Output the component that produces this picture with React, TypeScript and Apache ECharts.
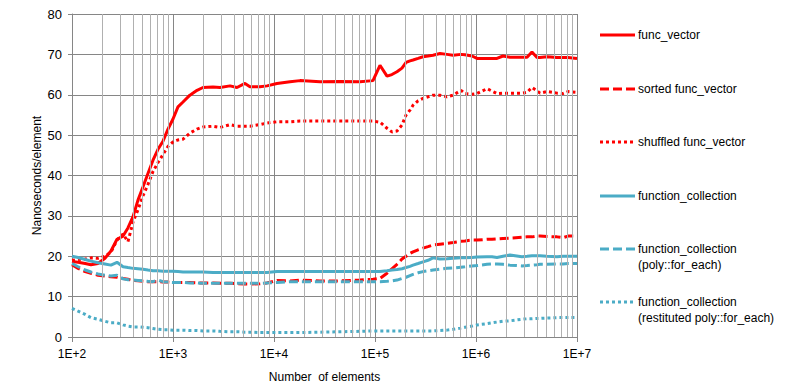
import React, { useEffect, useRef } from "react";
import * as echarts from "echarts";

const xValues = [
  100, 115, 135, 154, 181, 212, 243, 279, 320, 358, 402, 450, 505, 565, 634, 710, 796, 892,
  1000, 1120, 1256, 1470, 1730, 1980, 2490, 2920, 3670, 4300, 5160, 5780, 7260, 8530,
  10700, 14400, 18100, 28500, 45000, 71000, 95500, 112000, 131500, 147000, 165000, 185000,
  203000, 222000, 238000, 267000, 299000, 335000, 375000, 440000, 516000, 592000, 710000,
  778000, 912000, 1023000, 1285000, 1440000, 1614000, 1850000, 2170000, 2850000, 3200000,
  3580000, 4020000, 4300000, 5050000, 6340000, 7260000, 8150000, 10000000,
];

const funcVector = [
  18.7, 18.5, 18.2, 17.9, 18.2, 19.5, 21.3, 24.2, 25.0, 27.0, 29.8, 33.9, 37.2, 40.5, 43.8, 46.5, 48.5, 51.5,
  54.0, 57.0, 58.2, 59.9, 61.1, 61.8, 61.9, 61.8, 62.2, 61.8, 62.8, 62.0, 62.0, 62.2,
  62.8, 63.2, 63.5, 63.2, 63.3, 63.2, 63.5, 67.3, 64.6, 65.0, 65.7, 66.6,
  68.0, 68.4, 68.6, 69.0, 69.4, 69.6, 69.8, 70.2, 70.0, 69.8, 70.0,
  69.9, 69.6, 69.0, 69.0, 69.0, 69.0, 69.6, 69.3, 69.3, 69.3,
  70.6, 69.2, 69.2, 69.4, 69.2, 69.2, 69.2, 69.0,
];

const sortedFuncVector = [
  17.9, 17.0, 16.2, 15.8, 15.3, 15.1, 14.9, 14.8, 14.5, 14.3, 14.0, 13.9, 13.8, 13.7, 13.7, 13.7, 13.6, 13.6,
  13.5, 13.5, 13.5, 13.5, 13.4, 13.4, 13.4, 13.3, 13.3, 13.2, 13.1, 13.1, 13.2, 13.4,
  14.0, 13.9, 14.1, 13.9, 13.9, 14.1, 14.3, 14.5, 15.8, 16.9, 18.0, 19.3,
  20.0, 20.7, 21.1, 21.6, 22.0, 22.4, 22.8, 23.0, 23.2, 23.4, 23.7,
  23.8, 24.0, 24.0, 24.2, 24.2, 24.3, 24.4, 24.5, 24.7, 24.8,
  24.8, 25.0, 25.0, 24.9, 24.8, 24.6, 25.0, 25.0,
];

const shuffledFuncVector = [
  19.0, 19.2, 19.3, 19.6, 19.5, 20.0, 21.0, 24.0, 25.5, 23.6, 28.5, 31.5, 35.0, 37.8, 41.0, 43.2, 45.2, 47.2,
  48.3, 48.8, 49.0, 50.5, 51.5, 52.0, 52.2, 51.9, 52.6, 52.2, 52.2, 52.2, 52.6, 53.0,
  53.3, 53.3, 53.5, 53.5, 53.5, 53.5, 53.5, 53.2, 51.7, 50.8, 51.0, 52.5,
  55.0, 56.2, 57.4, 58.5, 59.1, 59.5, 59.9, 59.9, 59.5, 59.9, 61.1,
  60.3, 60.1, 60.3, 61.5, 60.9, 60.3, 60.4, 60.4, 60.4, 60.6,
  61.8, 61.0, 60.4, 60.8, 60.4, 60.3, 60.8, 60.6,
];

const functionCollection = [
  20.0, 19.7, 19.2, 18.8, 18.4, 18.1, 17.8, 18.5, 17.4, 17.2, 17.0, 16.9, 16.8, 16.6, 16.4, 16.4, 16.3, 16.3,
  16.3, 16.2, 16.1, 16.1, 16.1, 16.1, 16.0, 16.0, 16.0, 16.0, 16.0, 16.0, 16.0, 16.0,
  16.2, 16.2, 16.2, 16.2, 16.2, 16.2, 16.2, 16.2, 16.4, 16.6, 16.7, 16.9,
  17.2, 17.5, 17.8, 18.2, 18.6, 19.0, 19.6, 19.3, 19.4, 19.5, 19.6,
  19.6, 19.7, 19.8, 19.9, 19.9, 19.7, 20.0, 20.3, 19.9, 20.0,
  20.1, 20.1, 20.1, 20.0, 19.9, 20.0, 20.0, 20.0,
];

const functionCollectionPoly = [
  18.2, 17.4, 16.6, 16.1, 15.6, 15.3, 15.1, 15.3, 14.4, 14.2, 14.1, 14.0, 13.9, 13.8, 13.7, 14.1, 13.7, 13.6,
  13.5, 13.5, 13.5, 13.4, 13.4, 13.3, 13.3, 13.3, 13.3, 13.3, 13.3, 13.3, 13.3, 13.4,
  13.5, 13.7, 13.7, 13.7, 13.7, 13.7, 13.7, 13.7, 13.8, 13.9, 14.1, 14.5,
  14.8, 15.2, 15.5, 15.9, 16.2, 16.4, 16.6, 16.8, 17.0, 17.1, 17.3,
  17.4, 17.6, 17.7, 18.0, 18.1, 18.1, 18.0, 17.8, 17.6, 17.7,
  17.8, 17.9, 18.0, 18.0, 18.1, 18.1, 18.2, 18.2,
];

const functionCollectionRestituted = [
  7.1, 6.4, 5.6, 4.8, 4.4, 3.9, 3.5, 3.5, 3.0, 2.7, 2.5, 2.5, 2.4, 2.3, 2.1, 1.9, 1.8, 1.8,
  1.7, 1.7, 1.7, 1.6, 1.6, 1.5, 1.5, 1.4, 1.3, 1.3, 1.2, 1.2, 1.1, 1.1,
  1.1, 1.1, 1.1, 1.2, 1.3, 1.4, 1.5, 1.5, 1.5, 1.5, 1.5, 1.5,
  1.5, 1.5, 1.5, 1.5, 1.5, 1.5, 1.5, 1.6, 1.7, 1.9, 2.2,
  2.4, 2.7, 3.0, 3.3, 3.5, 3.7, 3.9, 4.0, 4.4, 4.5,
  4.5, 4.6, 4.6, 4.7, 4.8, 4.8, 4.8, 4.8,
];

const minorGridValues = [
  200, 300, 400, 500, 600, 700, 800, 900,
  2000, 3000, 4000, 5000, 6000, 7000, 8000, 9000,
  20000, 30000, 40000, 50000, 60000, 70000, 80000, 90000,
  200000, 300000, 400000, 500000, 600000, 700000, 800000, 900000,
  2000000, 3000000, 4000000, 5000000, 6000000, 7000000, 8000000, 9000000,
];

const seriesNames = [
  "func_vector",
  "sorted func_vector",
  "shuffled func_vector",
  "function_collection",
  "function_collection\n(poly::for_each)",
  "function_collection\n(restituted poly::for_each)",
];

const RED = "#FF0000";
const BLUE = "#4BACC6";
const FONT = "Liberation Sans";
const DASH = [9, 4];
const DOT = [3, 3];

const seriesDefs = [
  { name: seriesNames[0], data: funcVector, color: RED, dash: "solid" as any },
  { name: seriesNames[1], data: sortedFuncVector, color: RED, dash: DASH as any },
  { name: seriesNames[2], data: shuffledFuncVector, color: RED, dash: DOT as any },
  { name: seriesNames[3], data: functionCollection, color: BLUE, dash: "solid" as any },
  { name: seriesNames[4], data: functionCollectionPoly, color: BLUE, dash: DASH as any },
  { name: seriesNames[5], data: functionCollectionRestituted, color: BLUE, dash: DOT as any },
];

const legendY = [35, 89, 142, 196, 249, 302];

export default function App() {
  const ref = useRef<HTMLDivElement>(null);
  useEffect(() => {
    if (!ref.current) return;
    const chart = echarts.init(ref.current, undefined, { renderer: "svg" });

    const legendGraphics: any[] = [];
    seriesDefs.forEach((s, i) => {
      const y = legendY[i];
      legendGraphics.push({
        type: "line",
        shape: { x1: 600, y1: y, x2: 635, y2: y },
        style: {
          stroke: s.color,
          lineWidth: 3,
          lineDash: Array.isArray(s.dash) ? s.dash : null,
        },
      });
      legendGraphics.push({
        type: "text",
        x: 638,
        y: y - 8,
        style: {
          text: s.name,
          fill: "#000",
          fontSize: 12,
          fontFamily: FONT,
          lineHeight: 16,
          verticalAlign: "top",
          align: "left",
        },
      });
    });

    const option: any = {
      animation: false,
      textStyle: { fontFamily: FONT },
      grid: { left: 72, right: 218, top: 14, bottom: 53 },
      xAxis: {
        type: "log",
        logBase: 10,
        min: 100,
        max: 10000000,
        splitNumber: 5,
        name: "Number  of elements",
        nameLocation: "middle",
        nameGap: 34,
        nameTextStyle: { color: "#000", fontSize: 12, fontFamily: FONT },
        axisLine: { show: true, lineStyle: { color: "#868686", width: 1 } },
        axisTick: { show: true, length: 5, lineStyle: { color: "#868686" } },
        splitLine: { show: true, lineStyle: { color: "#868686", width: 1 } },
        axisLabel: {
          color: "#000",
          fontSize: 12,
          fontFamily: FONT,
          margin: 11,
          formatter: (v: number) => "1E+" + Math.round(Math.log10(v)),
        },
      },
      yAxis: {
        type: "value",
        min: 0,
        max: 80,
        interval: 10,
        name: "Nanoseconds/element",
        nameLocation: "middle",
        nameGap: 35,
        nameMoveOverlap: false,
        nameRotate: 90,
        nameTextStyle: { color: "#000", fontSize: 12, fontFamily: FONT, verticalAlign: "middle" },
        axisLine: { show: true, lineStyle: { color: "#868686", width: 1 } },
        axisTick: { show: true, length: 4, lineStyle: { color: "#868686" } },
        splitLine: { show: true, lineStyle: { color: "#868686", width: 1 } },
        axisLabel: { color: "#000", fontSize: 13, fontFamily: FONT, margin: 10 },
      },
      series: [
        {
          type: "line",
          name: "minor-grid",
          data: [],
          silent: true,
          z: 1,
          markLine: {
            silent: true,
            symbol: "none",
            label: { show: false },
            lineStyle: { color: "#B0B0B0", width: 1, type: "solid" },
            emphasis: { disabled: true },
            data: minorGridValues.map((v) => ({ xAxis: v })),
          },
        },
        ...seriesDefs.map((s) => ({
          type: "line",
          name: s.name,
          data: xValues.map((x, i) => [x, s.data[i]]),
          showSymbol: false,
          symbol: "none",
          z: 3,
          lineStyle: { color: s.color, width: 3, type: s.dash },
          itemStyle: { color: s.color },
        })),
      ],
      graphic: legendGraphics,
    };
    chart.setOption(option);
    return () => chart.dispose();
  }, []);
  return <div ref={ref} style={{ width: 795, height: 390, position: "absolute", left: 0, top: 0 }} />;
}
